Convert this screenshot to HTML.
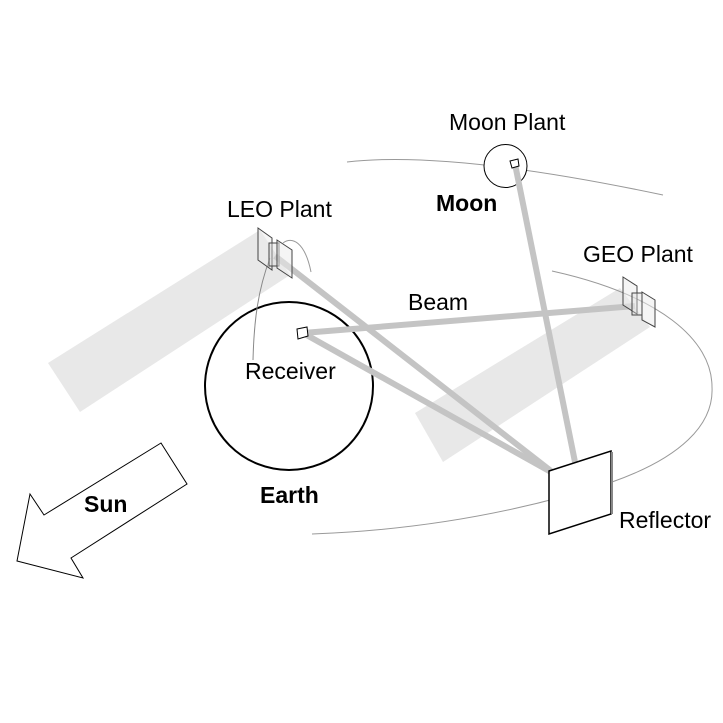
<!DOCTYPE html>
<html><head><meta charset="utf-8"><style>
html,body{margin:0;padding:0;background:#fff;}
svg{display:block;}
text{font-family:"Liberation Sans",Arial,sans-serif;font-size:23px;fill:#000;}
.b{font-weight:bold;}
</style></head><body>
<svg width="723" height="723" viewBox="0 0 723 723" xmlns="http://www.w3.org/2000/svg">
<rect width="723" height="723" fill="#fff"/>
<!-- shaded sun bands -->
<polygon points="48,363 260,230 290,275 80,412" fill="#e8e8e8"/>
<polygon points="415,413 620,288 650,327 443,462" fill="#e8e8e8"/>
<!-- moon orbit -->
<path d="M347,162 Q450,150 663,195" fill="none" stroke="#999" stroke-width="1"/>
<!-- GEO orbit -->
<path d="M312,534 C420,530 520,512 612,482 C680,458 714,425 712,387 C712,340 660,295 552,271" fill="none" stroke="#999" stroke-width="1"/>
<!-- LEO arc -->
<path d="M283,243 C292,236 305,242 311,272" fill="none" stroke="#999" stroke-width="1"/>
<!-- Earth -->
<circle cx="289" cy="386" r="84" fill="#fff" stroke="#000" stroke-width="2"/>
<!-- Moon -->
<circle cx="505.5" cy="166" r="21.5" fill="#fff" stroke="#000" stroke-width="1"/>
<!-- receiver leader -->
<path d="M253,360 C254,320 258,290 270,258" fill="none" stroke="#888" stroke-width="1"/>
<!-- beams -->
<g stroke="#c4c4c4" stroke-width="6" stroke-linecap="butt">
<line x1="275" y1="256" x2="551" y2="471"/>
<line x1="303" y1="333" x2="551" y2="472"/>
<line x1="303" y1="333" x2="635" y2="306"/>
<line x1="515" y1="164" x2="575" y2="462"/>
</g>
<!-- LEO panels -->
<g fill="none" stroke="#444" stroke-width="1">
<polygon points="258,228 272,238 272,270 258,260" fill="rgba(235,235,235,0.5)"/>
<rect x="269" y="243" width="10" height="23" fill="rgba(220,220,220,0.4)"/>
<polygon points="277,240 292,250 292,278 277,268" fill="rgba(235,235,235,0.5)"/>
</g>
<!-- GEO panels -->
<g fill="none" stroke="#444" stroke-width="1">
<polygon points="623,277 637,286 637,314 623,305" fill="rgba(235,235,235,0.5)"/>
<rect x="632" y="293" width="10" height="22" fill="rgba(220,220,220,0.4)"/>
<polygon points="642,292 655,300 655,327 642,320" fill="rgba(235,235,235,0.5)"/>
</g>
<!-- receiver square -->
<polygon points="297,329 307,327 308,336 298,339" fill="#fff" stroke="#000" stroke-width="1"/>
<!-- moon plant square -->
<polygon points="510,161 518,159 519,166 512,168" fill="#fff" stroke="#000" stroke-width="1"/>
<!-- reflector -->
<polygon points="549,471 611,451 611,514 549,534" fill="#fff" stroke="#000" stroke-width="1.5"/>
<line x1="612" y1="452" x2="612" y2="514" stroke="#888" stroke-width="2"/>
<!-- Sun arrow -->
<polygon points="161,443 187,484 71,558 83,578 17,561 30,494 44,515" fill="#fff" stroke="#000" stroke-width="1"/>
<!-- labels -->
<text x="449" y="130">Moon Plant</text>
<text x="436" y="211" class="b">Moon</text>
<text x="227" y="217">LEO Plant</text>
<text x="583" y="262">GEO Plant</text>
<text x="408" y="310">Beam</text>
<text x="245" y="379">Receiver</text>
<text x="260" y="503" class="b">Earth</text>
<text x="84" y="512" class="b">Sun</text>
<text x="619" y="528">Reflector</text>
</svg>
</body></html>
